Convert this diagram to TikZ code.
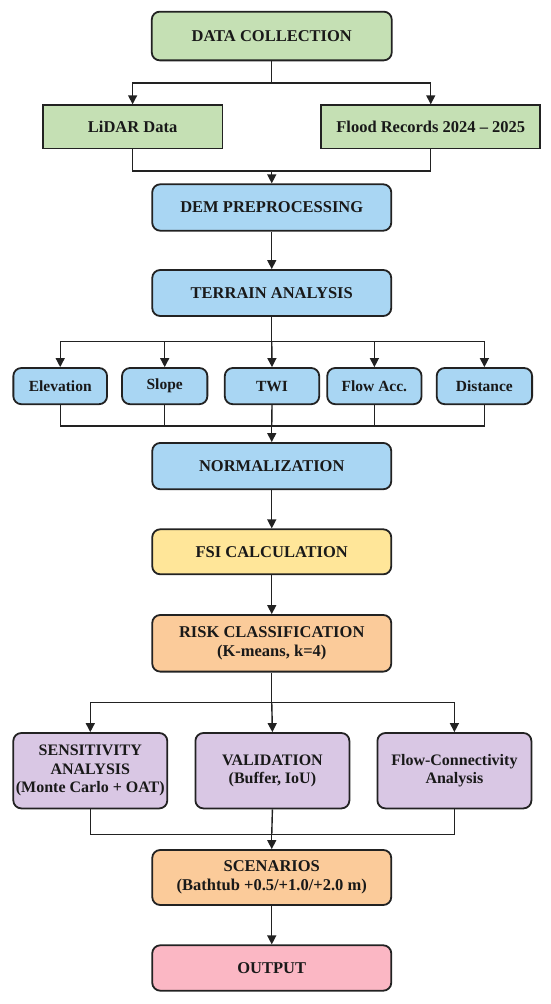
\documentclass[tikz,border=0pt]{standalone}
\usepackage{fontspec}
\setmainfont{Liberation Serif}
\usetikzlibrary{arrows.meta}
\definecolor{cgreen}{HTML}{C5E0B4}
\definecolor{cblue}{HTML}{A9D6F3}
\definecolor{cyellow}{HTML}{FFE699}
\definecolor{corange}{HTML}{FBCB9A}
\definecolor{cpurple}{HTML}{D9C7E4}
\definecolor{cpink}{HTML}{FBB7C4}
\definecolor{cline}{HTML}{222222}
\begin{document}
\begin{tikzpicture}[x=1pt,y=-1pt,
 box/.style={draw=cline,line width=1.8pt,rounded corners=8pt,inner sep=0pt,align=center,text=black!90,font=\fontsize{16.5}{18.6}\selectfont\bfseries},
 sqbox/.style={box,rounded corners=0pt},
 smallbox/.style={box,font=\fontsize{15.5}{16}\selectfont\bfseries,minimum height=36.2pt},
 triobox/.style={box,font=\fontsize{16}{18.6}\selectfont\bfseries,fill=cpurple,minimum width=154pt,minimum height=75.4pt},
 conn/.style={draw=cline,line width=1.4pt},
 arr/.style={conn,-{Triangle[length=9pt,width=9pt]}}]
\useasboundingbox (0,0) rectangle (550,1004);

% main column
\node[box,fill=cgreen,minimum width=240pt,minimum height=48.7pt] (data) at (271.75,36) {DATA COLLECTION};
\node[sqbox,fill=cgreen,minimum width=179.6pt,minimum height=43.2pt] (lidar) at (132.6,126.8) {LiDAR Data};
\node[sqbox,fill=cgreen,minimum width=218.9pt,minimum height=43.2pt] (flood) at (430.75,126.8) {Flood Records 2024 -- 2025};
\node[box,fill=cblue,minimum width=239pt,minimum height=46.4pt] (dem) at (271.75,207.5) {DEM PREPROCESSING};
\node[box,fill=cblue,minimum width=239pt,minimum height=46pt] (terrain) at (271.75,293) {TERRAIN ANALYSIS};

\node[smallbox,fill=cblue,minimum width=93.7pt] (elev) at (60.2,386.1) {Elevation};
\node[smallbox,fill=cblue,minimum width=85.3pt] (slope) at (164.7,386.1) {Slope};
\node[smallbox,fill=cblue,minimum width=94.4pt] (twi) at (272,386.1) {TWI};
\node[smallbox,fill=cblue,minimum width=94.3pt] (flow) at (374.4,386.1) {Flow Acc.};
\node[smallbox,fill=cblue,minimum width=95.4pt] (dist) at (484.4,386.1) {Distance};

\node[box,fill=cblue,minimum width=239pt,minimum height=46.3pt] (norm) at (271.75,466.1) {NORMALIZATION};
\node[box,fill=cyellow,minimum width=239pt,minimum height=45pt] (fsi) at (271.75,551.8) {FSI CALCULATION};
\node[box,fill=corange,minimum width=239pt,minimum height=56.6pt] (risk) at (271.75,643.3) {RISK CLASSIFICATION\\(K-means, k=4)};

\node[triobox] (sens) at (90.3,770.7) {SENSITIVITY\\ANALYSIS\\(Monte Carlo + OAT)};
\node[triobox] (valid) at (272.4,770.7) {VALIDATION\\(Buffer, IoU)};
\node[triobox] (fconn) at (454.4,770.7) {Flow-Connectivity\\Analysis};

\node[box,fill=corange,minimum width=239pt,minimum height=55pt] (scen) at (271.75,877.5) {SCENARIOS\\(Bathtub +0.5/+1.0/+2.0 m)};
\node[box,fill=cpink,minimum width=239pt,minimum height=45.4pt] (out) at (271.75,968) {OUTPUT};

% junction coordinates
\coordinate (s1) at (271.75,83.1);
\coordinate (m1) at (271.75,170.8);
\coordinate (s2) at (271.75,341.7);
\coordinate (m2) at (271.75,425.9);
\coordinate (s3) at (271.75,702.4);
\coordinate (m3) at (271.75,834.7);

% connectors
\draw[conn] (data.south) -- (s1);
\draw[arr] (s1) -| (lidar.north);
\draw[arr] (s1) -| (flood.north);
\draw[conn] (lidar.south) |- (m1);
\draw[conn] (flood.south) |- (m1);
\draw[arr] (m1) -- (dem.north);
\draw[arr] (dem.south) -- (terrain.north);

\draw[conn] (terrain.south) -- (s2);
\draw[arr] (s2) -| (elev.north);
\draw[arr] (s2) -| (slope.north);
\draw[arr] (s2) -- (twi.north);
\draw[arr] (s2) -| (flow.north);
\draw[arr] (s2) -| (dist.north);
\draw[conn] (elev.south) |- (m2);
\draw[conn] (slope.south) |- (m2);
\draw[conn] (twi.south) -- (m2);
\draw[conn] (flow.south) |- (m2);
\draw[conn] (dist.south) |- (m2);
\draw[arr] (m2) -- (norm.north);

\draw[arr] (norm.south) -- (fsi.north);
\draw[arr] (fsi.south) -- (risk.north);

\draw[conn] (risk.south) -- (s3);
\draw[arr] (s3) -| (sens.north);
\draw[arr] (s3) -- (valid.north);
\draw[arr] (s3) -| (fconn.north);
\draw[conn] (sens.south) |- (m3);
\draw[conn] (valid.south) -- (m3);
\draw[conn] (fconn.south) |- (m3);
\draw[arr] (m3) -- (scen.north);
\draw[arr] (scen.south) -- (out.north);
\end{tikzpicture}
\end{document}
